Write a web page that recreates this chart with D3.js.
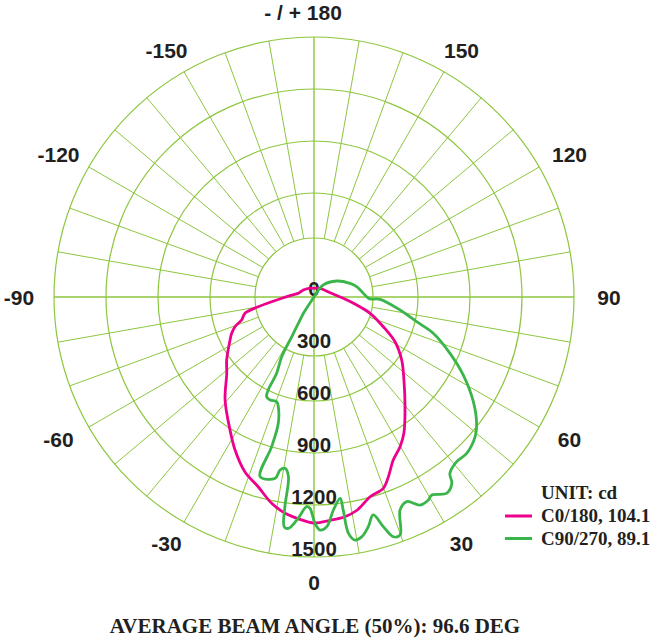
<!DOCTYPE html>
<html lang="en">
  <head>
    <meta charset="UTF-8" />
    <title>Polar intensity</title>
    <script src="https://cdn.jsdelivr.net/npm/d3@7"></script>
    <style>
      body { margin: 0; background: #fff; }
    </style>
  </head>
  <body>
    <svg id="chart" width="655" height="639"></svg>
    <script>
      // values, angle in degrees (0 = down, 90 = right), intensity in cd
      const ringValues = [600, 900, 1200, 1500];
      const radialLabels = [0, 300, 600, 900, 1200, 1500];
      const angleTicks = [180, -150, 150, -120, 120, -90, 90, -60, 60, -30, 30, 0];
      const angleTickText = ["- / + 180", "-150", "150", "-120", "120", "-90", "90", "-60", "60", "-30", "30", "0"];

      const c0Angles = [-180, -150, -123, -105, -95, -87.7, -80.1, -76.7, -72.4, -69.4, -66.2, -62.9, -54.2, -48.8, -40.8,
        -32.3, -27.3, -21.6, -16.4, -11.6, -7.6, -3.2, 0, 4.3, 8, 11.5, 15.7, 19.9, 22.5, 25.9, 29.9, 33.4, 39.7,
        47.3, 54.3, 61.1, 66.8, 73.8, 79.4, 87.5, 105, 145, 180];
      const c0Values = [50, 58, 74, 90, 129, 186, 326, 409, 438, 487, 519, 544, 621, 669, 785,
        907, 993, 1084, 1141, 1215, 1259, 1288, 1304, 1291, 1280, 1254, 1197, 1174, 1122, 1046, 996, 942, 822,
        706, 623, 534, 435, 337, 251, 169, 96, 61, 50];

      const c90Angles = [-180, -36, -33, -32, -29.3, -28.4, -26.1, -26.2, -25.4, -23.1, -19.6, -18, -15.8, -15.8, -16.7,
        -12.1, -11.1, -9.6, -8.1, -7.9, -7.4, -6.3, -4.1, -2, -1.1, 0.25, 1.5, 3.2, 5.2, 7.4, 7.8, 8.3, 9.6, 11.3,
        13.3, 15.2, 16.8, 18.3, 19.9, 22, 24.4, 27, 29.4, 30.7, 34.1, 36.5, 37.6, 40.9, 44.3, 49.1, 51.8, 56.7,
        62.4, 67.5, 73.1, 76.5, 81.4, 88, 88, 90.3, 103.6, 110.8, 125.2, 142.2, 180];
      const c90Values = [0, 0, 112, 134, 263, 392, 490, 598, 637, 646, 641, 666, 757, 897, 1082,
        1070, 1017, 1002, 1047, 1221, 1336, 1343, 1280, 1210, 1219, 1306, 1345, 1327, 1234, 1171, 1240, 1378, 1422, 1410,
        1362, 1303, 1384, 1457, 1460, 1325, 1296, 1347, 1344, 1329, 1367, 1337, 1285, 1257, 1261, 1230, 1194, 1100,
        972, 849, 719, 609, 502, 381, 323, 304, 253, 222, 160, 88, 0];

      const seriesNames = ["C0/180, 104.1", "C90/270, 89.1"];
      const seriesColors = ["#ec008c", "#39b54a"];

      const cx = 314, cy = 297, R = 260, hub = 59;
      const gridColor = "#8dc63f";
      const ink = "#231f20";

      const svg = d3.select("#chart");
      const r = d3.scaleLinear().domain([0, 1500]).range([0, R]);
      const rad = (a) => (a * Math.PI) / 180;
      // screen point for an angle measured from "down", clockwise towards the right side
      const pt = (a, len) => [cx + len * Math.sin(rad(a)), cy + len * Math.cos(rad(a))];

      const grid = svg.append("g");

      // spokes every 10 degrees, the four axes run into the centre
      grid.selectAll("line.spoke")
        .data(d3.range(-180, 180, 10))
        .enter()
        .append("line")
        .attr("x1", (a) => pt(a, a % 90 === 0 ? 0 : hub)[0])
        .attr("y1", (a) => pt(a, a % 90 === 0 ? 0 : hub)[1])
        .attr("x2", (a) => pt(a, R)[0])
        .attr("y2", (a) => pt(a, R)[1])
        .attr("stroke", gridColor)
        .attr("stroke-width", (a) => (a % 90 === 0 ? 1.4 : 1));

      grid.selectAll("circle.ring")
        .data(ringValues)
        .enter()
        .append("circle")
        .attr("cx", cx)
        .attr("cy", cy)
        .attr("r", (d) => r(d))
        .attr("fill", "none")
        .attr("stroke", gridColor)
        .attr("stroke-width", 1.2);

      grid.append("circle")
        .attr("cx", cx)
        .attr("cy", cy)
        .attr("r", hub)
        .attr("fill", "none")
        .attr("stroke", gridColor)
        .attr("stroke-width", 1.2);

      // intensity labels down the 0 axis
      svg.selectAll("text.rlabel")
        .data(radialLabels)
        .enter()
        .append("text")
        .attr("x", cx)
        .attr("y", (d) => cy + r(d) - 1)
        .attr("text-anchor", "middle")
        .attr("font-family", "Liberation Sans, Arial, sans-serif")
        .attr("font-weight", "bold")
        .attr("font-size", 20.5)
        .attr("fill", ink)
        .text((d) => d);

      // angle labels round the outside
      const rx = 295, ry = 285;
      svg.selectAll("text.alabel")
        .data(angleTicks)
        .enter()
        .append("text")
        .attr("x", (a) => cx + rx * Math.sin(rad(a)))
        .attr("y", (a) => cy + ry * Math.cos(rad(a)))
        .attr("dx", (a) => (a === 180 ? -11 : 0))
        .attr("dy", "0.36em")
        .attr("text-anchor", "middle")
        .attr("font-family", "Liberation Sans, Arial, sans-serif")
        .attr("font-weight", "bold")
        .attr("font-size", 21)
        .attr("fill", ink)
        .text((a, i) => angleTickText[i]);

      const line = d3.lineRadial()
        .angle((d) => Math.PI - rad(d[0]))
        .radius((d) => r(d[1]))
        .curve(d3.curveCatmullRom.alpha(0.5));

      const series = [
        d3.zip(c0Angles, c0Values),
        d3.zip(c90Angles, c90Values),
      ];

      svg.append("g")
        .attr("transform", `translate(${cx},${cy})`)
        .selectAll("path")
        .data(series)
        .enter()
        .append("path")
        .attr("d", line)
        .attr("fill", "none")
        .attr("stroke", (d, i) => seriesColors[i])
        .attr("stroke-width", 2.8)
        .attr("stroke-linejoin", "round");

      // legend
      const serif = "Liberation Serif, Times New Roman, serif";
      const legend = svg.append("g").attr("transform", "translate(505,499)");
      legend.append("text")
        .attr("x", 36)
        .attr("y", 0)
        .attr("font-family", serif)
        .attr("font-weight", "bold")
        .attr("font-size", 19)
        .attr("fill", ink)
        .text("UNIT: cd");
      const items = legend.selectAll("g.item")
        .data(seriesNames)
        .enter()
        .append("g")
        .attr("transform", (d, i) => `translate(0,${23 + i * 22.5})`);
      items.append("line")
        .attr("x1", 0)
        .attr("x2", 27)
        .attr("y1", -6)
        .attr("y2", -6)
        .attr("stroke", (d, i) => seriesColors[i])
        .attr("stroke-width", 3);
      items.append("text")
        .attr("x", 36)
        .attr("font-family", serif)
        .attr("font-weight", "bold")
        .attr("font-size", 19)
        .attr("fill", ink)
        .text((d) => d);

      svg.append("text")
        .attr("x", 315)
        .attr("y", 633)
        .attr("text-anchor", "middle")
        .attr("font-family", serif)
        .attr("font-weight", "bold")
        .attr("font-size", 21)
        .attr("fill", ink)
        .text("AVERAGE BEAM ANGLE (50%): 96.6 DEG");
    </script>
  </body>
</html>
